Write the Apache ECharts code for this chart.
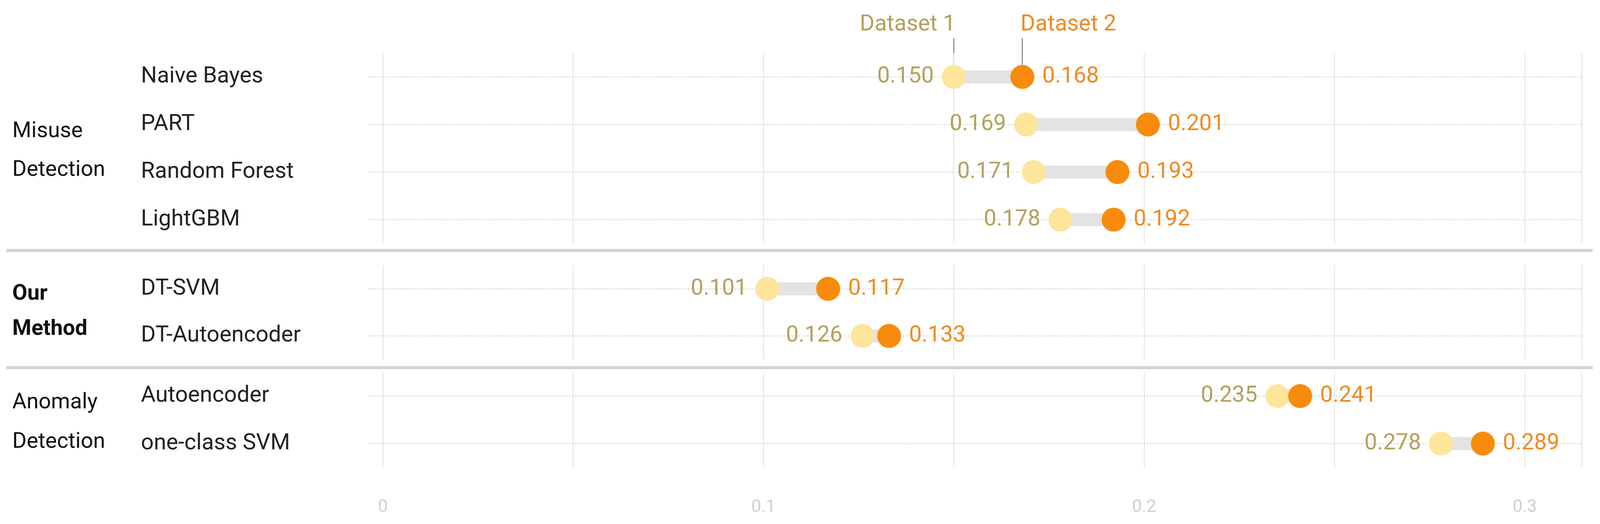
<!DOCTYPE html><html><head><meta charset="utf-8">
<script src="https://cdn.jsdelivr.net/npm/echarts@6/dist/echarts.min.js"></script>
<style>html,body{margin:0;padding:0;background:#fff;overflow:hidden}#c{width:100vw;height:100vh}</style></head><body><div id="c"></div>
<script>
const groups = [
  {name:['Misuse','Detection'], bold:false, cats:['Naive Bayes','PART','Random Forest','LightGBM'], d1:[0.150,0.169,0.171,0.178], d2:[0.168,0.201,0.193,0.192]},
  {name:['Our','Method'], bold:true, cats:['DT-SVM','DT-Autoencoder'], d1:[0.101,0.126], d2:[0.117,0.133]},
  {name:['Anomaly','Detection'], bold:false, cats:['Autoencoder','one-class SVM'], d1:[0.235,0.278], d2:[0.241,0.289]}
];
const xTicks = [0, 0.1, 0.2, 0.3];
const C1='#fde59c', C1T='#b3a05c', C2='#f88b0c', C2T='#f08a1e';
const font='Roboto';
const chart=echarts.init(document.getElementById('c'));
const W=chart.getWidth(),H=chart.getHeight(),sx=W/4405,sy=H/1341,s=Math.min(sx,sy);
const X=v=>v*sx, Y=v=>v*sy, F=v=>v*s;
const gridPos=[[136,623],[679,920],[953,1196]];
const grid=[],xAxis=[],yAxis=[],series=[];
groups.forEach((g,i)=>{
  grid.push({left:X(1054),right:X(50),top:Y(gridPos[i][0]),height:Y(gridPos[i][1]-gridPos[i][0])});
  xAxis.push({gridIndex:i,type:'value',min:0,max:0.315,interval:0.05,
    axisLine:{show:false},axisTick:{show:false},
    splitLine:{lineStyle:{color:'#e8e8e8',width:F(3)}},
    axisLabel:{show:i===2,margin:Y(80),fontSize:F(48),color:'#cfcfcf',fontFamily:font,
      formatter:v=>{const t=xTicks.find(t=>Math.abs(t-v)<1e-9);return t===undefined?'':String(t);}}});
  yAxis.push({gridIndex:i,type:'category',data:g.cats,inverse:true,
    axisLine:{show:false},axisTick:{show:false},splitLine:{show:false},
    axisLabel:{align:'left',margin:X(666),fontSize:F(62),color:'#222',fontFamily:font}});
  series.push({type:'custom',xAxisIndex:i,yAxisIndex:i,z:1,
    data:g.cats.map((c,j)=>[j,g.d1[j],g.d2[j]]),
    renderItem:(p,api)=>{
      const a=api.coord([api.value(1),api.value(0)]),b=api.coord([api.value(2),api.value(0)]);
      const cs=p.coordSys;
      return {type:'group',children:[
        {type:'line',shape:{x1:cs.x-X(40),y1:a[1],x2:cs.x+cs.width,y2:a[1]},style:{stroke:'#d8d8d8',lineWidth:F(3),lineDash:[F(4),F(4)]}},
        {type:'rect',shape:{x:a[0],y:a[1]-F(18),width:b[0]-a[0],height:F(36)},style:{fill:'#e3e3e3'}}
      ]};
    }});
  series.push({type:'scatter',xAxisIndex:i,yAxisIndex:i,z:3,symbolSize:F(66),itemStyle:{color:C1,opacity:1},
    data:g.d1.map((v,j)=>[v,j]),
    label:{show:true,position:'left',distance:F(22),fontSize:F(62),color:C1T,fontFamily:font,formatter:p=>p.value[0].toFixed(3)}});
  series.push({type:'scatter',xAxisIndex:i,yAxisIndex:i,z:4,symbolSize:F(66),itemStyle:{color:C2,opacity:1},
    data:g.d2.map((v,j)=>[v,j]),
    label:{show:true,position:'right',distance:F(22),fontSize:F(62),color:C2T,fontFamily:font,formatter:p=>p.value[0].toFixed(3)}});
});
const graphic=[
  {type:'rect',shape:{x:X(17),y:Y(637),width:X(4368),height:Y(8)},style:{fill:'#d4d4d4'}},
  {type:'rect',shape:{x:X(17),y:Y(937),width:X(4368),height:Y(8)},style:{fill:'#d4d4d4'}}
];
const gLab=[[337,436],[753,843],[1031,1132]];
groups.forEach((g,i)=>{g.name.forEach((t,k)=>graphic.push({type:'text',x:X(34),y:Y(gLab[i][k]),
  style:{text:t,fontSize:F(60),fontWeight:g.bold?'bold':'normal',fill:'#111',fontFamily:font,textVerticalAlign:'middle'}}));});
chart.setOption({animation:false,grid,xAxis,yAxis,series,graphic});
const p1=chart.convertToPixel({xAxisIndex:0,yAxisIndex:0},[groups[0].d1[0],0]);
const p2=chart.convertToPixel({xAxisIndex:0,yAxisIndex:0},[groups[0].d2[0],0]);
graphic.push(
  {type:'line',shape:{x1:p1[0],y1:Y(98),x2:p1[0],y2:p1[1]-F(33)},style:{stroke:'#888',lineWidth:F(3)}},
  {type:'line',shape:{x1:p2[0],y1:Y(98),x2:p2[0],y2:p2[1]-F(33)},style:{stroke:'#888',lineWidth:F(3)}},
  {type:'text',x:p1[0]+F(5),y:Y(64),style:{text:'Dataset 1',fontSize:F(62),fill:C1T,fontFamily:font,textAlign:'right',textVerticalAlign:'middle'}},
  {type:'text',x:p2[0]-F(5),y:Y(64),style:{text:'Dataset 2',fontSize:F(62),fill:C2T,fontFamily:font,textAlign:'left',textVerticalAlign:'middle'}}
);
chart.setOption({graphic});
</script></body></html>
